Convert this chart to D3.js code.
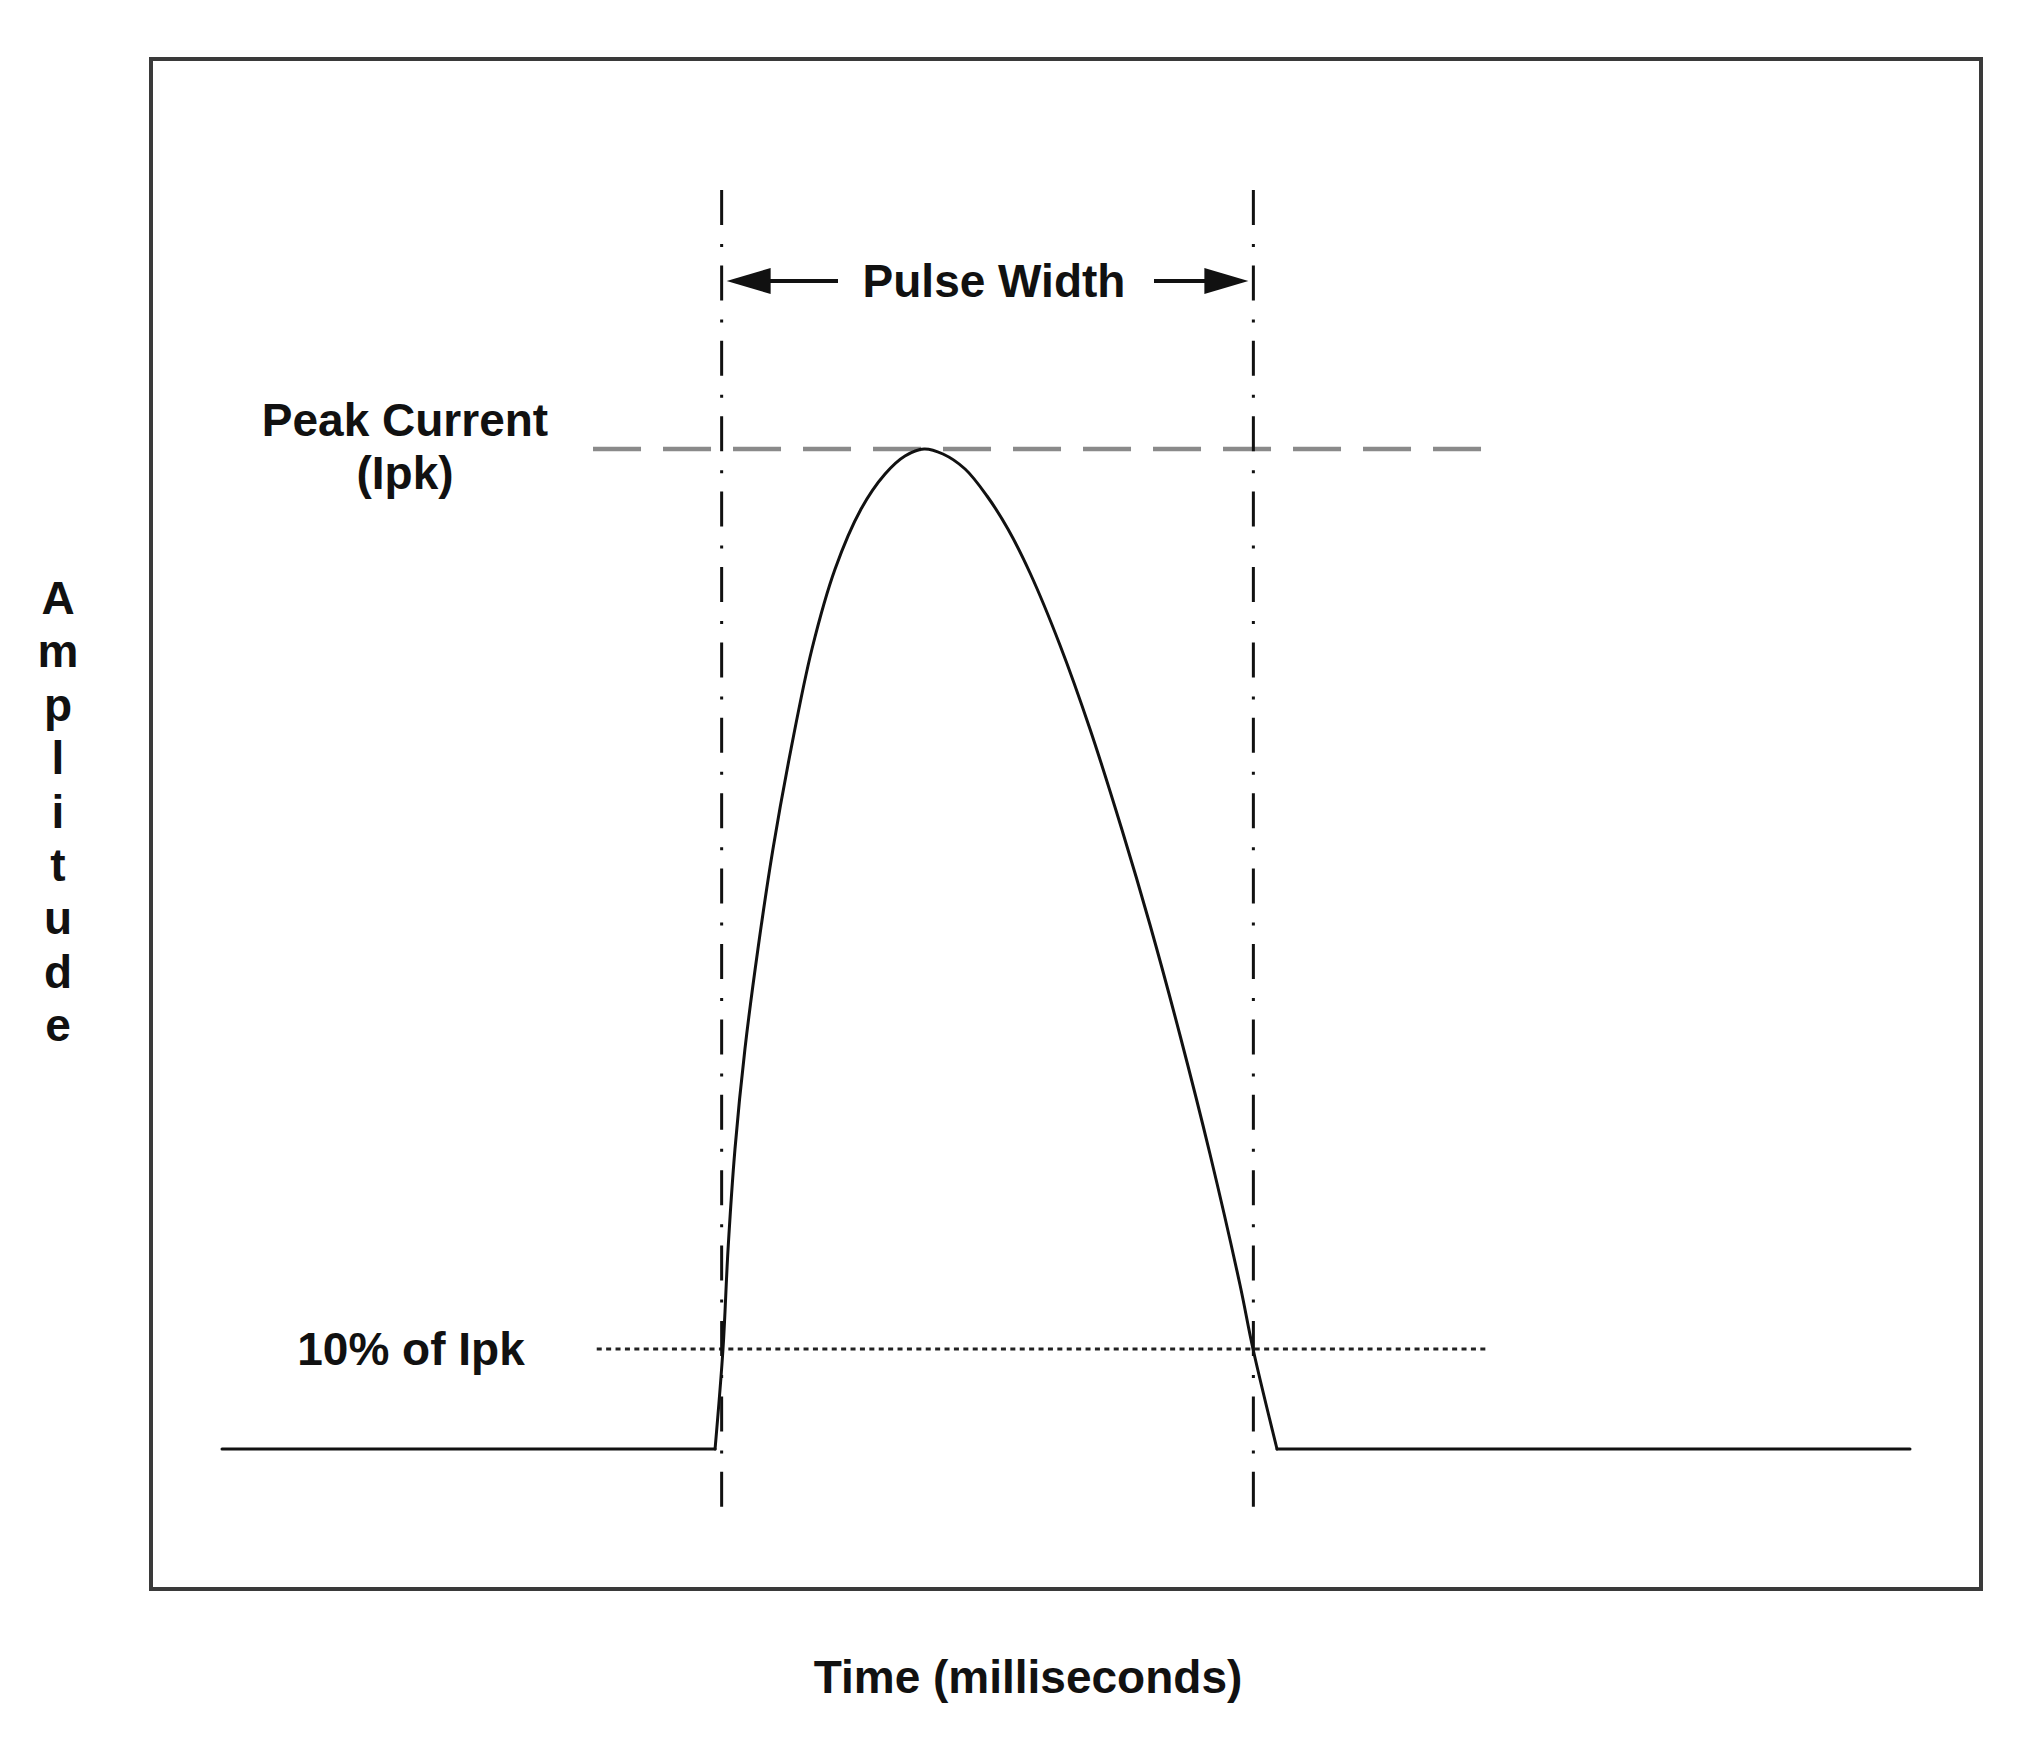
<!DOCTYPE html>
<html>
<head>
<meta charset="utf-8">
<script src="https://cdn.jsdelivr.net/npm/d3@7"></script>
<style>
  html, body { margin: 0; padding: 0; background: #ffffff; }
  svg { display: block; }
  text { font-family: "Liberation Sans", Arial, sans-serif; font-weight: bold; fill: #111; }
</style>
</head>
<body>
<svg id="chart" width="2028" height="1744"></svg>
<script>
// ---- Data (time in arbitrary ms units, amplitude in % of Ipk) ----
const baselineLeft = { time: [0, 29.21], amplitude: [0, 0] };
const baselineRight = { time: [62.5, 100], amplitude: [0, 0] };
const pulseTime = [29.21, 29.68, 29.98, 30.39, 30.98, 31.75, 32.64, 33.71, 34.95, 36.32, 37.86, 39.28, 40.46, 41.59,
                   42.71, 44.02, 45.32, 46.56, 47.87, 49.64, 51.42, 53.32, 54.98, 56.75, 58.53, 60.31, 61.08, 62.5];
const pulseAmplitude = [0, 10, 20, 30, 40, 50, 60, 70, 80, 88, 94, 97.5, 99.3, 100,
                   99.5, 98.0, 95.3, 92.0, 87.6, 80.4, 72.0, 61.9, 52.4, 41.4, 29.5, 16.4, 10, 0];

const peakLevel = 100;            // Ipk
const tenPctLevel = 10;           // 10% of Ipk
const pulseEdges = [29.6, 61.1];  // pulse width markers (time)
const peakLineSpan = [21.98, 74.82];
const tenPctLineSpan = [22.2, 75.1];
const markerSpan = [125.9, -5.8]; // vertical extent of the pulse-width markers (amplitude units)
const arrowLevel = 116.8;

const xTitle = "Time (milliseconds)";
const yTitle = "Amplitude";
const pulseLabel = "Pulse Width";
const peakLabel = ["Peak Current", "(Ipk)"];
const tenPctLabel = "10% of Ipk";

// ---- Layout ----
const svg = d3.select("#chart");
const frame = { left: 151, top: 59, right: 1981, bottom: 1589 };
const x = d3.scaleLinear().domain([0, 100]).range([222, 1910]);
const y = d3.scaleLinear().domain([0, 100]).range([1449, 449]);

// frame
svg.append("rect")
  .attr("x", frame.left).attr("y", frame.top)
  .attr("width", frame.right - frame.left).attr("height", frame.bottom - frame.top)
  .attr("fill", "none").attr("stroke", "#3a3a3a").attr("stroke-width", 4);

// peak dashed line
svg.append("line")
  .attr("x1", x(peakLineSpan[0])).attr("x2", x(peakLineSpan[1]))
  .attr("y1", y(peakLevel)).attr("y2", y(peakLevel))
  .attr("stroke", "#8a8a8a").attr("stroke-width", 4.5)
  .attr("stroke-dasharray", "48,22");

// 10% dotted line
svg.append("line")
  .attr("x1", x(tenPctLineSpan[0])).attr("x2", x(tenPctLineSpan[1]))
  .attr("y1", y(tenPctLevel)).attr("y2", y(tenPctLevel))
  .attr("stroke", "#222").attr("stroke-width", 3)
  .attr("stroke-dasharray", "5,4.4");

// vertical dash-dot markers
svg.selectAll("line.marker").data(pulseEdges).join("line")
  .attr("class", "marker")
  .attr("x1", d => x(d)).attr("x2", d => x(d))
  .attr("y1", y(markerSpan[0])).attr("y2", y(markerSpan[1]))
  .attr("stroke", "#111").attr("stroke-width", 3)
  .attr("stroke-dasharray", "35,19,3,18.4");

// pulse curve
const linear = d3.line().x(d => x(d[0])).y(d => y(d[1]));
const smooth = d3.line().x(d => x(d[0])).y(d => y(d[1])).curve(d3.curveCatmullRom.alpha(0.5));
const zip = (t, a) => t.map((v, i) => [v, a[i]]);
const wave = svg.append("g").attr("fill", "none").attr("stroke", "#111").attr("stroke-width", 3)
  .attr("stroke-linejoin", "round").attr("stroke-linecap", "round");
wave.append("path").attr("d", linear(zip(baselineLeft.time, baselineLeft.amplitude)));
wave.append("path").attr("d", smooth(zip(pulseTime, pulseAmplitude)));
wave.append("path").attr("d", linear(zip(baselineRight.time, baselineRight.amplitude)));

// pulse width arrows
const ay = y(arrowLevel);
const xl = x(pulseEdges[0]) + 5, xr = x(pulseEdges[1]) - 5;
const headLen = 44, headHalf = 13;
svg.append("line").attr("x1", xl + headLen - 2).attr("x2", 838).attr("y1", ay).attr("y2", ay)
  .attr("stroke", "#111").attr("stroke-width", 4);
svg.append("line").attr("x1", 1154).attr("x2", xr - headLen + 2).attr("y1", ay).attr("y2", ay)
  .attr("stroke", "#111").attr("stroke-width", 4);
svg.append("path").attr("d", `M${xl},${ay} L${xl + headLen},${ay - headHalf} L${xl + headLen},${ay + headHalf} Z`).attr("fill", "#111");
svg.append("path").attr("d", `M${xr},${ay} L${xr - headLen},${ay - headHalf} L${xr - headLen},${ay + headHalf} Z`).attr("fill", "#111");

const fs = 46;
svg.append("text").attr("x", 994).attr("y", ay + 16).attr("text-anchor", "middle")
  .attr("font-size", fs).text(pulseLabel);

// peak label
svg.append("text").attr("x", 405).attr("y", 436).attr("text-anchor", "middle").attr("font-size", fs).text(peakLabel[0]);
svg.append("text").attr("x", 405).attr("y", 489).attr("text-anchor", "middle").attr("font-size", fs).text(peakLabel[1]);

// 10% label
svg.append("text").attr("x", 411).attr("y", y(tenPctLevel) + 16).attr("text-anchor", "middle").attr("font-size", fs).text(tenPctLabel);

// x title
svg.append("text").attr("x", 1028).attr("y", 1693).attr("text-anchor", "middle").attr("font-size", fs).text(xTitle);

// y title, stacked letters
svg.append("g").selectAll("text").data(yTitle.split("")).join("text")
  .attr("x", 58).attr("y", (d, i) => 614 + i * 53.4)
  .attr("text-anchor", "middle").attr("font-size", fs).text(d => d);
</script>
</body>
</html>
